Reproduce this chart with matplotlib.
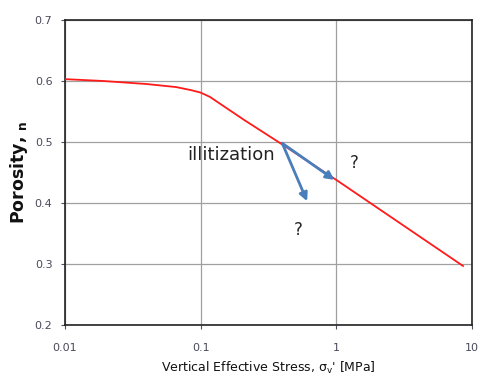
import matplotlib.pyplot as plt
from matplotlib.ticker import FixedLocator, FixedFormatter

# curve
stress = [0.01, 0.019, 0.04, 0.066, 0.085, 0.1, 0.117, 0.21, 0.4, 1.0, 8.6]
porosity = [0.603, 0.600, 0.595, 0.590, 0.585, 0.581, 0.574, 0.536, 0.496, 0.438, 0.297]

x_ticks = [0.01, 0.1, 1, 10]
x_tick_labels = ["0.01", "0.1", "1", "10"]
y_ticks = [0.2, 0.3, 0.4, 0.5, 0.6, 0.7]
y_tick_labels = ["0.2", "0.3", "0.4", "0.5", "0.6", "0.7"]

arrow_start = (0.4, 0.498)
arrow_ends = [(0.97, 0.438), (0.61, 0.403)]
question_marks = [(1.36, 0.466), (0.52, 0.356)]

fig = plt.figure(figsize=(4.88, 3.83), dpi=100)
ax = fig.add_axes([0.133, 0.151, 0.834, 0.797])

ax.plot(stress, porosity, color="#ff1a1a", lw=1.3, zorder=3)

ax.set_xscale("log")
ax.set_xlim(0.01, 10)
ax.set_ylim(0.2, 0.7)
ax.xaxis.set_major_locator(FixedLocator(x_ticks))
ax.xaxis.set_major_formatter(FixedFormatter(x_tick_labels))
ax.xaxis.set_minor_locator(FixedLocator([]))
ax.yaxis.set_major_locator(FixedLocator(y_ticks))
ax.yaxis.set_major_formatter(FixedFormatter(y_tick_labels))

ax.grid(True, color="#a0a0a0", lw=0.9)
ax.set_axisbelow(True)
for s in ax.spines.values():
    s.set_color("#222222")
    s.set_linewidth(1.2)
ax.tick_params(axis="x", pad=10)
ax.tick_params(colors="#505060", labelsize=8, length=3, width=0.8,
               labelcolor="#4a4a5a")
ax.tick_params(axis="y", pad=6)

for end in arrow_ends:
    ax.annotate("", xy=end, xytext=arrow_start,
                arrowprops=dict(arrowstyle="-|>", color="#4a7ebb", lw=2.0,
                                mutation_scale=12, shrinkA=0, shrinkB=0),
                zorder=4)

ax.text(0.08, 0.479, "illitization", fontsize=13, color="#222222",
        va="center", ha="left")
for qx, qy in question_marks:
    ax.text(qx, qy, "?", fontsize=12, color="#222222", ha="center", va="center")

ax.set_ylabel("Porosity, $\\mathregular{_n}$", fontsize=12.5, fontweight="bold",
              color="#111111", labelpad=3)
ax.set_xlabel("Vertical Effective Stress, σ$_\\mathregular{v}$' [MPa]",
              fontsize=9, color="#111111", labelpad=5)

fig.savefig("out.png", dpi=100)
